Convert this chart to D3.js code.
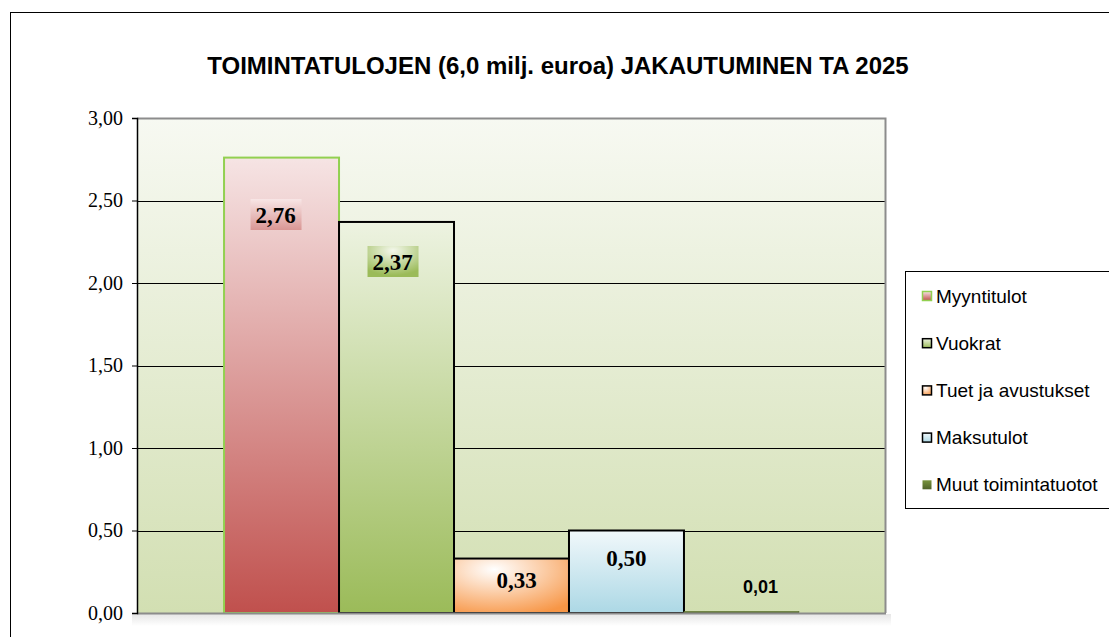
<!DOCTYPE html>
<html>
<head>
<meta charset="utf-8">
<script src="https://cdn.jsdelivr.net/npm/d3@7"></script>
<style>
  body { margin: 0; background: #fff; }
  svg { display: block; }
</style>
</head>
<body>
<div id="container"></div>
<script>
/**
 * DATA
 * */
const series = ["Myyntitulot", "Vuokrat", "Tuet ja avustukset", "Maksutulot", "Muut toimintatuotot"];
const values = [2.76, 2.37, 0.33, 0.50, 0.01];
const yTicks = [0, 0.5, 1, 1.5, 2, 2.5, 3];
const title = "TOIMINTATULOJEN (6,0 milj. euroa) JAKAUTUMINEN TA 2025";

/**
 * CONSTANTS
 * */
const width = 1109, height = 637;
const plot = { left: 137, right: 886, top: 118, bottom: 613 };

// colours per series: [top, bottom, stroke]
const palette = [
  { top: "#f6e4e4", bot: "#c0504d", stroke: "#92d050" },
  { top: "#edf3e1", bot: "#9bbb59", stroke: "#000" },
  { top: "#fde9d9", bot: "#f79646", stroke: "#000" },
  { top: "#f1f8fb", bot: "#acd8e5", stroke: "#000" },
  { top: "#77933c", bot: "#4f6228", stroke: "#4f6228" }
];

const svg = d3.select("#container")
  .append("svg")
  .attr("width", width)
  .attr("height", height);

const defs = svg.append("defs");

// plot area gradient
const bg = defs.append("linearGradient").attr("id", "bg")
  .attr("x1", 0).attr("y1", 0).attr("x2", 0).attr("y2", 1);
bg.append("stop").attr("offset", "0%").attr("stop-color", "#f7f9f2");
bg.append("stop").attr("offset", "100%").attr("stop-color", "#d2dfb2");

palette.forEach((p, i) => {
  let g;
  if (i === 2) {
    g = defs.append("radialGradient").attr("id", "g" + i)
      .attr("cx", "35%").attr("cy", "20%").attr("r", "90%");
    g.append("stop").attr("offset", "0%").attr("stop-color", "#ffffff");
    g.append("stop").attr("offset", "100%").attr("stop-color", p.bot);
  } else {
    g = defs.append("linearGradient").attr("id", "g" + i)
      .attr("x1", 0).attr("y1", 0).attr("x2", 0).attr("y2", 1);
    g.append("stop").attr("offset", "0%").attr("stop-color", p.top);
    g.append("stop").attr("offset", "100%").attr("stop-color", p.bot);
  }
});

// label box gradients
const lb0 = defs.append("linearGradient").attr("id", "lb0")
  .attr("x1", 0).attr("y1", 0).attr("x2", 0).attr("y2", 1);
lb0.append("stop").attr("offset", "0%").attr("stop-color", "#f8e6e6");
lb0.append("stop").attr("offset", "100%").attr("stop-color", "#d99694");
const lb1 = defs.append("radialGradient").attr("id", "lb1")
  .attr("cx", "50%").attr("cy", "15%").attr("r", "80%");
lb1.append("stop").attr("offset", "0%").attr("stop-color", "#f4f8ec");
lb1.append("stop").attr("offset", "100%").attr("stop-color", "#9bbb59");

const shadow = defs.append("linearGradient").attr("id", "shadow")
  .attr("x1", 0).attr("y1", 0).attr("x2", 0).attr("y2", 1);
shadow.append("stop").attr("offset", "0%").attr("stop-color", "#e6e6e6");
shadow.append("stop").attr("offset", "100%").attr("stop-color", "#ffffff");

// outer chart border
svg.append("rect")
  .attr("x", 10.5).attr("y", 12.5)
  .attr("width", 1200).attr("height", 700)
  .attr("fill", "#fff")
  .attr("stroke", "#000").attr("stroke-width", 1);

// title
svg.append("text")
  .attr("x", 558).attr("y", 74)
  .attr("text-anchor", "middle")
  .attr("font-family", "Liberation Sans, Arial, sans-serif")
  .attr("font-weight", "bold")
  .attr("font-size", 24)
  .text(title);

/**
 * SCALES
 * */
const y = d3.scaleLinear().domain([0, 3]).range([plot.bottom, plot.top]);
const x = d3.scaleBand()
  .domain(series)
  .range([plot.left, plot.right])
  .paddingInner(0)
  .paddingOuter(0.757);

// shadow under plot
svg.append("rect")
  .attr("x", plot.left - 5).attr("y", plot.bottom + 1)
  .attr("width", plot.right - plot.left + 10).attr("height", 12)
  .attr("fill", "url(#shadow)");

// plot background
svg.append("rect")
  .attr("x", plot.left).attr("y", plot.top)
  .attr("width", plot.right - plot.left).attr("height", plot.bottom - plot.top)
  .attr("fill", "url(#bg)");

// gridlines
svg.append("g")
  .selectAll("line")
  .data(yTicks.filter(d => d > 0 && d < 3))
  .join("line")
  .attr("x1", plot.left).attr("x2", plot.right)
  .attr("y1", d => Math.round(y(d)) + 0.5).attr("y2", d => Math.round(y(d)) + 0.5)
  .attr("stroke", "#000").attr("stroke-width", 1);

// plot top/right border
svg.append("path")
  .attr("d", `M${plot.left},${plot.top + 0.5}H${plot.right - 0.5}V${plot.bottom}`)
  .attr("fill", "none").attr("stroke", "#8c8c8c").attr("stroke-width", 2);

// bars
svg.append("g")
  .selectAll("rect")
  .data(values)
  .join("rect")
  .attr("x", (d, i) => x(series[i]))
  .attr("y", d => y(d))
  .attr("width", x.bandwidth())
  .attr("height", d => Math.max(1, plot.bottom - y(d)))
  .attr("fill", (d, i) => `url(#g${i})`)
  .attr("stroke", (d, i) => palette[i].stroke)
  .attr("stroke-width", (d, i) => i === 4 ? 0.5 : 2);

// x axis line
svg.append("line")
  .attr("x1", plot.left).attr("x2", plot.right)
  .attr("y1", plot.bottom + 0.5).attr("y2", plot.bottom + 0.5)
  .attr("stroke", "#8c8c8c").attr("stroke-width", 2);

// y axis
const yAxis = d3.axisLeft(y)
  .tickValues(yTicks)
  .tickSize(5)
  .tickPadding(9)
  .tickFormat(d => d3.format(".2f")(d).replace(".", ","));

const ya = svg.append("g")
  .attr("transform", `translate(${plot.left},0)`)
  .call(yAxis);
ya.select(".domain").attr("stroke", "#000").attr("stroke-width", 1.5);
ya.selectAll(".tick line").attr("stroke", "#000");
ya.selectAll(".tick text")
  .attr("font-family", "Liberation Serif, Times New Roman, serif")
  .attr("font-size", 20)
  .attr("fill", "#000");

// value labels (baseline y and x offset from bar centre)
const labelY = [223, 270, 588, 566, 593];
const labelDx = [-6, -4, 5, 0, 19];
const lbl = svg.append("g");
values.forEach((v, i) => {
  const cx = x(series[i]) + x.bandwidth() / 2 + labelDx[i];
  const txt = d3.format(".2f")(v).replace(".", ",");
  if (i < 2) {
    lbl.append("rect")
      .attr("x", cx - 25).attr("y", labelY[i] - 24)
      .attr("width", 51).attr("height", 31)
      .attr("fill", `url(#lb${i})`);
  }
  lbl.append("text")
    .attr("x", cx).attr("y", labelY[i])
    .attr("text-anchor", "middle")
    .attr("font-family", i === 4 ? "Liberation Sans, Arial, sans-serif" : "Liberation Serif, Times New Roman, serif")
    .attr("font-weight", "bold")
    .attr("font-size", i === 4 ? 18 : 23)
    .text(txt);
});

// legend
const legend = svg.append("g");
legend.append("rect")
  .attr("x", 905.5).attr("y", 271.5)
  .attr("width", 220).attr("height", 237)
  .attr("fill", "#fff")
  .attr("stroke", "#000").attr("stroke-width", 1);

const leg = legend.selectAll("g.item")
  .data(series)
  .join("g")
  .attr("class", "item")
  .attr("transform", (d, i) => `translate(922, ${296 + i * 47.2})`);

leg.append("rect")
  .attr("x", 0.5).attr("y", -4.5)
  .attr("width", 9).attr("height", 9)
  .attr("fill", (d, i) => `url(#g${i})`)
  .attr("stroke", (d, i) => palette[i].stroke)
  .attr("stroke-width", (d, i) => i === 4 ? 0 : 1.5);

leg.append("text")
  .attr("x", 14).attr("y", 6.5)
  .attr("font-family", "Liberation Sans, Arial, sans-serif")
  .attr("font-size", 19)
  .text(d => d);
</script>
</body>
</html>
